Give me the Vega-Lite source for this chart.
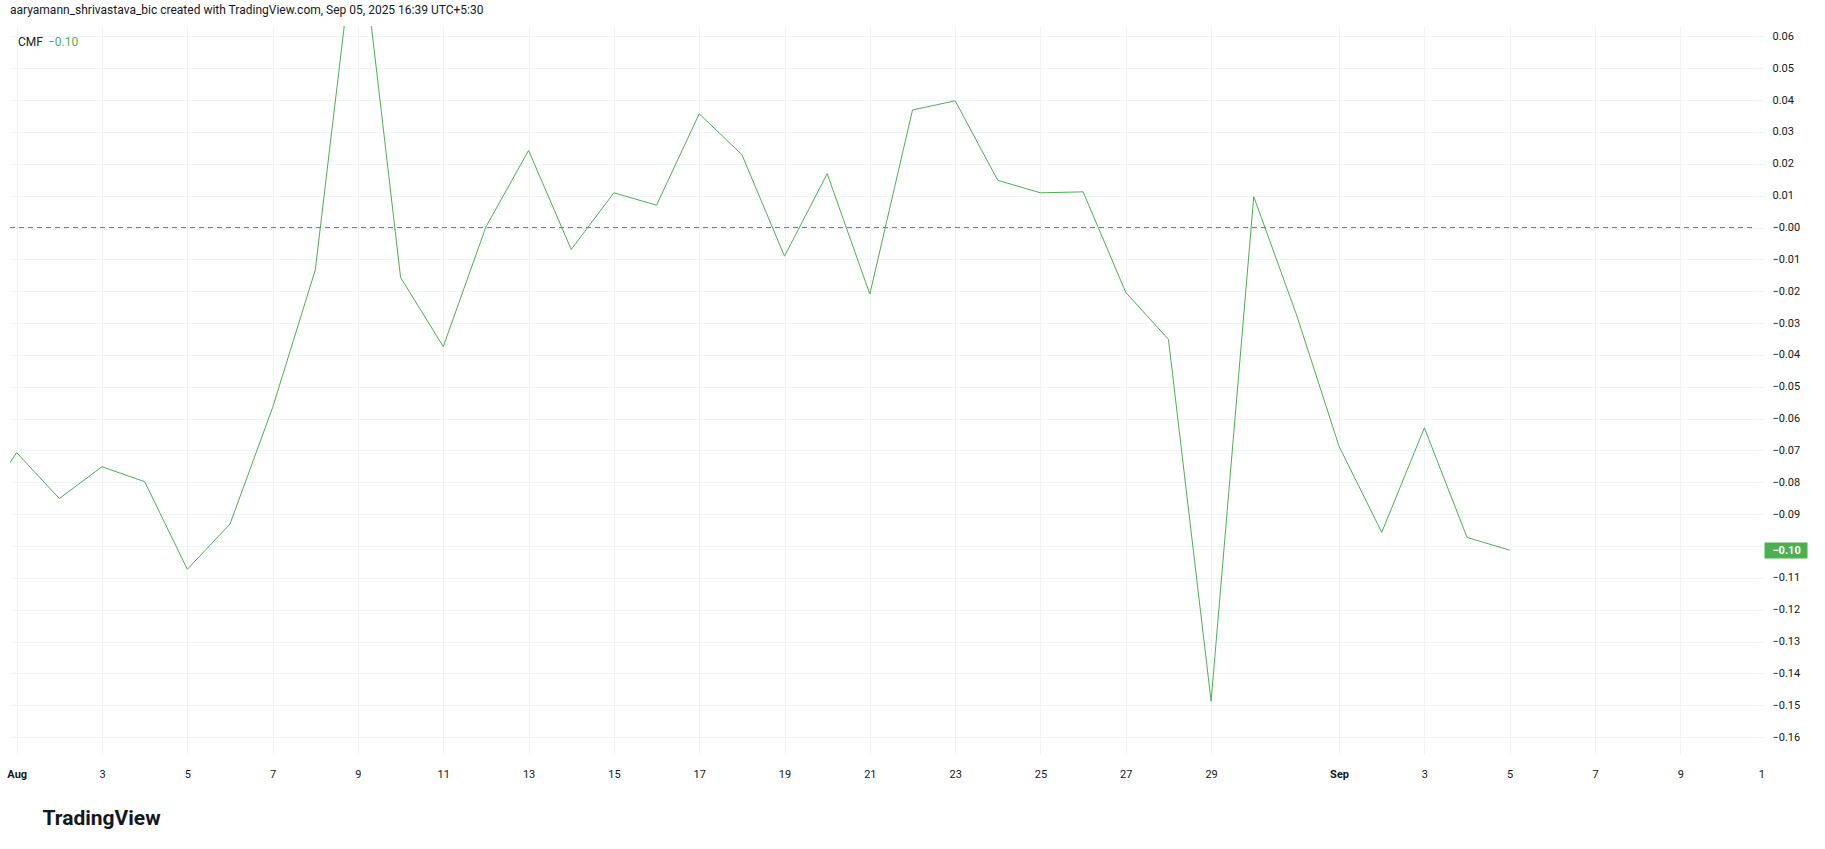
{
  "$schema": "https://vega.github.io/schema/vega-lite/v6.json",
  "width": 1742,
  "height": 728,
  "autosize": {"type": "none"},
  "padding": {"left": 10, "top": 26, "right": 73, "bottom": 95},
  "background": "#ffffff",
  "config": {"view": {"stroke": null}, "font": "Roboto"},
  "title": {
    "text": "aaryamann_shrivastava_bic created with TradingView.com, Sep 05, 2025 16:39 UTC+5:30",
    "anchor": "start",
    "frame": "group",
    "offset": 9,
    "fontSize": 12,
    "fontWeight": "normal",
    "color": "#131722",
    "font": "Roboto"
  },
  "data": {
    "values": [
      {"date": "2025-07-31", "cmf": -0.0906},
      {"date": "2025-08-01", "cmf": -0.0707},
      {"date": "2025-08-02", "cmf": -0.0851},
      {"date": "2025-08-03", "cmf": -0.0751},
      {"date": "2025-08-04", "cmf": -0.0798},
      {"date": "2025-08-05", "cmf": -0.1073},
      {"date": "2025-08-06", "cmf": -0.0931},
      {"date": "2025-08-07", "cmf": -0.0565},
      {"date": "2025-08-08", "cmf": -0.0133},
      {"date": "2025-08-09", "cmf": 0.0995},
      {"date": "2025-08-10", "cmf": -0.0157},
      {"date": "2025-08-11", "cmf": -0.0374},
      {"date": "2025-08-12", "cmf": 0.0002},
      {"date": "2025-08-13", "cmf": 0.0242},
      {"date": "2025-08-14", "cmf": -0.0069},
      {"date": "2025-08-15", "cmf": 0.0109},
      {"date": "2025-08-16", "cmf": 0.0070},
      {"date": "2025-08-17", "cmf": 0.0357},
      {"date": "2025-08-18", "cmf": 0.0229},
      {"date": "2025-08-19", "cmf": -0.0090},
      {"date": "2025-08-20", "cmf": 0.0169},
      {"date": "2025-08-21", "cmf": -0.0209},
      {"date": "2025-08-22", "cmf": 0.0369},
      {"date": "2025-08-23", "cmf": 0.0398},
      {"date": "2025-08-24", "cmf": 0.0148},
      {"date": "2025-08-25", "cmf": 0.0109},
      {"date": "2025-08-26", "cmf": 0.0112},
      {"date": "2025-08-27", "cmf": -0.0204},
      {"date": "2025-08-28", "cmf": -0.0351},
      {"date": "2025-08-29", "cmf": -0.1487},
      {"date": "2025-08-30", "cmf": 0.0097},
      {"date": "2025-08-31", "cmf": -0.0273},
      {"date": "2025-09-01", "cmf": -0.0687},
      {"date": "2025-09-02", "cmf": -0.0957},
      {"date": "2025-09-03", "cmf": -0.0629},
      {"date": "2025-09-04", "cmf": -0.0973},
      {"date": "2025-09-05", "cmf": -0.1013}
    ]
  },
  "layer": [
    {
      "mark": {"type": "line", "color": "#4caf50", "strokeWidth": 1, "clip": true},
      "encoding": {
        "x": {
          "field": "date",
          "type": "temporal",
          "scale": {"type": "utc", "domain": [1753992835200, 1757521152000]},
          "axis": {
            "values": [1754006400000, 1754179200000, 1754352000000, 1754524800000, 1754697600000, 1754870400000, 1755043200000, 1755216000000, 1755388800000, 1755561600000, 1755734400000, 1755907200000, 1756080000000, 1756252800000, 1756425600000, 1756684800000, 1756857600000, 1757030400000, 1757203200000, 1757376000000, 1757520000000],
            "grid": true,
            "gridColor": {"condition": {"test": "datum.value > 1757500000000", "value": "rgba(0,0,0,0)"}, "value": "#f0f3fa"},
            "gridWidth": 1,
            "domain": false,
            "ticks": false,
            "tickSize": 0,
            "labelPadding": 20,
            "labelBaseline": "middle",
            "labelAlign": "center",
            "labelFontSize": 11,
            "labelFont": "Roboto",
            "labelColor": "#131722",
            "labelOverlap": false,
            "labelFlush": false,
            "labelOffset": {"condition": {"test": "datum.value > 1757500000000", "value": 10}, "value": 0},
            "labelExpr": "utcdate(datum.value) == 1 ? utcFormat(datum.value, '%b') : (datum.value > 1757500000000 ? '1' : '' + utcdate(datum.value))",
            "labelFontWeight": {"condition": {"test": "utcdate(datum.value) == 1", "value": "bold"}, "value": "normal"},
            "title": "TradingView",
            "titleX": 32,
            "titleY": 64,
            "titleAlign": "left",
            "titleAnchor": "start",
            "titleBaseline": "middle",
            "titleFontSize": 21,
            "titleFontWeight": "bold",
            "titleFont": "Roboto",
            "titleColor": "#131722"
          }
        },
        "y": {
          "field": "cmf",
          "type": "quantitative",
          "scale": {"domain": [-0.1653, 0.06327], "nice": false, "zero": false},
          "axis": {
            "orient": "right",
            "values": [-0.16, -0.15, -0.14, -0.13, -0.12, -0.11, -0.1, -0.09, -0.08, -0.07, -0.06, -0.05, -0.04, -0.03, -0.02, -0.01, 0, 0.01, 0.02, 0.03, 0.04, 0.05, 0.06],
            "grid": true,
            "gridColor": "#f0f3fa",
            "gridWidth": 1,
            "domain": false,
            "ticks": true,
            "tickSize": 11,
            "tickColor": "#f0f3fa",
            "labelAlign": "left",
            "labelBaseline": "middle",
            "labelPadding": 9,
            "labelFontSize": 11,
            "labelFont": "Roboto",
            "labelColor": "#131722",
            "labelOverlap": false,
            "labelFlush": false,
            "labelExpr": "abs(datum.value + 0.1) < 0.0001 ? '' : (datum.value <= 0 ? '\u2212' + format(abs(datum.value), '.2f') : format(datum.value, '.2f'))",
            "title": null
          }
        }
      }
    },
    {
      "data": {"values": [{}]},
      "mark": {"type": "rule", "color": "#787b86", "strokeWidth": 1, "strokeDash": [5, 4]},
      "encoding": {
        "y": {
          "datum": 0,
          "type": "quantitative",
          "axis": {
            "orient": "right",
            "values": [-0.1013],
            "grid": false,
            "domain": false,
            "ticks": true,
            "tickSize": 43,
            "tickWidth": 16,
            "tickColor": "#4caf50",
            "offset": 12,
            "labelAlign": "left",
            "labelBaseline": "middle",
            "labelPadding": -35,
            "labelColor": "#ffffff",
            "labelFontWeight": "bold",
            "labelFontSize": 11,
            "labelFont": "Roboto",
            "labelExpr": "'\u22120.10'",
            "title": null,
            "zindex": 1
          }
        }
      }
    },
    {
      "data": {"values": [{}]},
      "mark": {"type": "text", "text": "CMF", "align": "left", "baseline": "middle", "fontSize": 12, "font": "Roboto", "color": "#131722"},
      "encoding": {
        "x": {"datum": {"year": 2025, "month": 8, "date": 1, "hours": 0, "minutes": 44, "utc": true}, "type": "temporal"},
        "y": {"datum": 0.0582, "type": "quantitative", "axis": null}
      }
    },
    {
      "data": {"values": [{}]},
      "mark": {"type": "text", "text": "\u22120.10", "align": "left", "baseline": "middle", "fontSize": 12, "font": "Roboto", "color": "#4caf50"},
      "encoding": {
        "x": {"datum": {"year": 2025, "month": 8, "date": 1, "hours": 17, "minutes": 37, "utc": true}, "type": "temporal"},
        "y": {"datum": 0.0582, "type": "quantitative", "axis": null}
      }
    }
  ],
  "resolve": {"axis": {"y": "independent"}}
}
